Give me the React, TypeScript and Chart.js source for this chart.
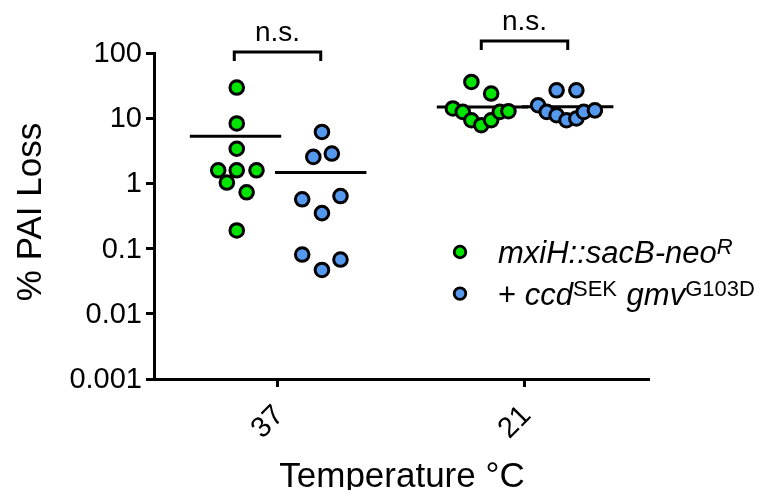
import React, { useEffect, useRef } from "react";
import { Chart, registerables } from "chart.js";

Chart.register(...registerables);

// ---------- data ----------
const categories = ["37", "21"];
const categoryPositions = [1, 3];
const yTickValues = [0.001, 0.01, 0.1, 1, 10, 100];
const yTickLabels = ["0.001", "0.01", "0.1", "1", "10", "100"];

const greenValues = [
  [29.5, 8.3, 3.4, 1.59, 1.59, 1.59, 1.03, 0.73, 0.19],
  [36, 23.9, 14.1, 12.5, 9.3, 7.8, 9.3, 12.5, 12.8],
];
const greenOffsets = [
  [-0.33, -0.33, -0.33, -0.48, -0.33, -0.17, -0.41, -0.25, -0.33],
  [-0.43, -0.27, -0.58, -0.5, -0.43, -0.35, -0.27, -0.2, -0.13],
];
const blueValues = [
  [6.15, 2.55, 2.87, 0.57, 0.64, 0.35, 0.081, 0.068, 0.047],
  [26.8, 26.8, 15.8, 12.5, 11.1, 9.3, 9.9, 12.5, 13.2],
];
const blueOffsets = [
  [0.36, 0.29, 0.44, 0.2, 0.51, 0.36, 0.2, 0.51, 0.36],
  [0.26, 0.42, 0.11, 0.18, 0.26, 0.34, 0.42, 0.48, 0.57],
];
const greenMeans = [5.3, 14.9];
const blueMeans = [1.47, 15.0];
const significanceLabels = ["n.s.", "n.s."];
const bracketLevels = [104, 153];

const seriesNames = ["mxiH::sacB-neo^R", "+ ccd^SEK gmv^G103D"];

// ---------- styles ----------
const GREEN = "#00e400";
const BLUE = "#5599ee";
const FONT = '"Liberation Sans", Arial, Helvetica, sans-serif';
const MEAN_HALF = 0.37;
const GREEN_CENTER = -0.34;
const BLUE_CENTER = 0.35;

type Seg = { t: string; italic?: boolean; sup?: boolean };
const legendRich: Seg[][] = [
  [
    { t: "mxiH::sacB-neo", italic: true },
    { t: "R", italic: true, sup: true },
  ],
  [
    { t: "+ " },
    { t: "ccd", italic: true },
    { t: "SEK", sup: true },
    { t: " " },
    { t: "gmv", italic: true },
    { t: "G103D", sup: true },
  ],
];

const overlayPlugin = {
  id: "overlay",
  afterDraw(chart: any) {
    const { ctx, chartArea, scales } = chart;
    const xs = scales.x;
    const ys = scales.y;
    ctx.save();
    ctx.fillStyle = "#000";
    ctx.strokeStyle = "#000";

    // y tick labels
    ctx.font = `29px ${FONT}`;
    ctx.textAlign = "right";
    ctx.textBaseline = "middle";
    yTickValues.forEach((v, i) => {
      ctx.fillText(yTickLabels[i], chartArea.left - 12, ys.getPixelForValue(v) + 1);
    });

    // x tick labels (rotated)
    categories.forEach((c, i) => {
      const px = xs.getPixelForValue(categoryPositions[i]);
      ctx.save();
      ctx.translate(px + 2, chartArea.bottom + 32);
      ctx.rotate(-Math.PI / 4);
      ctx.textAlign = "right";
      ctx.textBaseline = "middle";
      ctx.fillText(c, 0, 0);
      ctx.restore();
    });

    // x title
    ctx.font = `35px ${FONT}`;
    ctx.textAlign = "center";
    ctx.textBaseline = "alphabetic";
    ctx.fillText("Temperature \u00B0C", (chartArea.left + chartArea.right) / 2 + 1, chartArea.bottom + 108);

    // y title
    ctx.save();
    ctx.font = `35px ${FONT}`;
    ctx.translate(33, (chartArea.top + chartArea.bottom) / 2 - 4);
    ctx.rotate(-Math.PI / 2);
    ctx.textAlign = "center";
    ctx.textBaseline = "alphabetic";
    ctx.fillText("% PAI Loss", 0, 0);
    ctx.restore();

    // brackets + n.s.
    ctx.lineWidth = 3;
    ctx.lineCap = "butt";
    ctx.lineJoin = "miter";
    categories.forEach((_, i) => {
      const x1 = xs.getPixelForValue(categoryPositions[i] - 0.35);
      const x2 = xs.getPixelForValue(categoryPositions[i] + 0.35);
      const top = ys.getPixelForValue(bracketLevels[i]);
      ctx.beginPath();
      ctx.moveTo(x1, top + 9);
      ctx.lineTo(x1, top);
      ctx.lineTo(x2, top);
      ctx.lineTo(x2, top + 9);
      ctx.stroke();
      ctx.font = `28px ${FONT}`;
      ctx.textAlign = "center";
      ctx.textBaseline = "alphabetic";
      ctx.fillText(significanceLabels[i], (x1 + x2) / 2, top - 11);
    });

    // legend
    const colors = [GREEN, BLUE];
    const lx = chartArea.left + 306;
    const ly0 = chartArea.top + 199;
    legendRich.forEach((segs, i) => {
      const cy = ly0 + i * 41.6;
      ctx.beginPath();
      ctx.arc(lx, cy, 5.8, 0, Math.PI * 2);
      ctx.fillStyle = colors[i];
      ctx.fill();
      ctx.lineWidth = 2.8;
      ctx.stroke();
      ctx.fillStyle = "#000";
      ctx.textAlign = "left";
      ctx.textBaseline = "alphabetic";
      let tx = lx + 38;
      const base = cy + 11;
      segs.forEach((s) => {
        const size = s.sup ? 22 : 31;
        ctx.font = `${s.italic ? "italic " : ""}${size}px ${FONT}`;
        ctx.fillText(s.t, tx, s.sup ? base - 9 : base);
        tx += ctx.measureText(s.t).width + (s.sup ? 1 : 0);
      });
    });

    ctx.restore();
  },
};

export default function App() {
  const ref = useRef<HTMLCanvasElement>(null);

  useEffect(() => {
    if (!ref.current) return;

    const makePoints = (vals: number[][], offs: number[][]) =>
      categoryPositions.flatMap((pos, i) =>
        vals[i].map((v, j) => ({ x: pos + offs[i][j], y: v }))
      );

    const meanLines: any[] = [];
    categoryPositions.forEach((pos, i) => {
      [
        [greenMeans[i], GREEN_CENTER],
        [blueMeans[i], BLUE_CENTER],
      ].forEach(([m, c]) => {
        meanLines.push({
          type: "line",
          data: [
            { x: pos + c - MEAN_HALF, y: m },
            { x: pos + c + MEAN_HALF, y: m },
          ],
          borderColor: "#000",
          borderWidth: 3,
          pointRadius: 0,
          fill: false,
          order: 2,
        });
      });
    });

    const chart = new Chart(ref.current, {
      type: "scatter",
      data: {
        datasets: [
          {
            label: seriesNames[0],
            data: makePoints(greenValues, greenOffsets),
            backgroundColor: GREEN,
            borderColor: "#000",
            borderWidth: 3,
            pointRadius: 6.8,
            order: 1,
          },
          {
            label: seriesNames[1],
            data: makePoints(blueValues, blueOffsets),
            backgroundColor: BLUE,
            borderColor: "#000",
            borderWidth: 3,
            pointRadius: 6.8,
            order: 0,
          },
          ...meanLines,
        ],
      } as any,
      options: {
        animation: false,
        responsive: true,
        maintainAspectRatio: false,
        layout: {
          autoPadding: false,
          padding: { left: 138, top: 45, right: 111, bottom: 103 },
        },
        plugins: {
          legend: { display: false },
          tooltip: { enabled: false },
        },
        scales: {
          x: {
            type: "linear",
            min: 0,
            max: 4,
            afterBuildTicks: (s: any) => {
              s.ticks = categoryPositions.map((v) => ({ value: v }));
            },
            ticks: { display: false },
            grid: {
              display: true,
              drawOnChartArea: false,
              drawTicks: true,
              tickLength: 8,
              color: "#000",
              lineWidth: 3,
            },
            border: { display: true, color: "#000", width: 3 },
          },
          y: {
            type: "logarithmic",
            min: 0.001,
            max: 100,
            afterBuildTicks: (s: any) => {
              s.ticks = yTickValues.map((v) => ({ value: v }));
            },
            ticks: { display: false },
            grid: {
              display: true,
              drawOnChartArea: false,
              drawTicks: true,
              tickLength: 8,
              color: "#000",
              lineWidth: 3,
            },
            border: { display: true, color: "#000", width: 3 },
          },
        },
      } as any,
      plugins: [overlayPlugin],
    });

    return () => chart.destroy();
  }, []);

  return (
    <div style={{ position: "relative", width: "751px", height: "482px" }}>
      <canvas ref={ref} />
    </div>
  );
}
